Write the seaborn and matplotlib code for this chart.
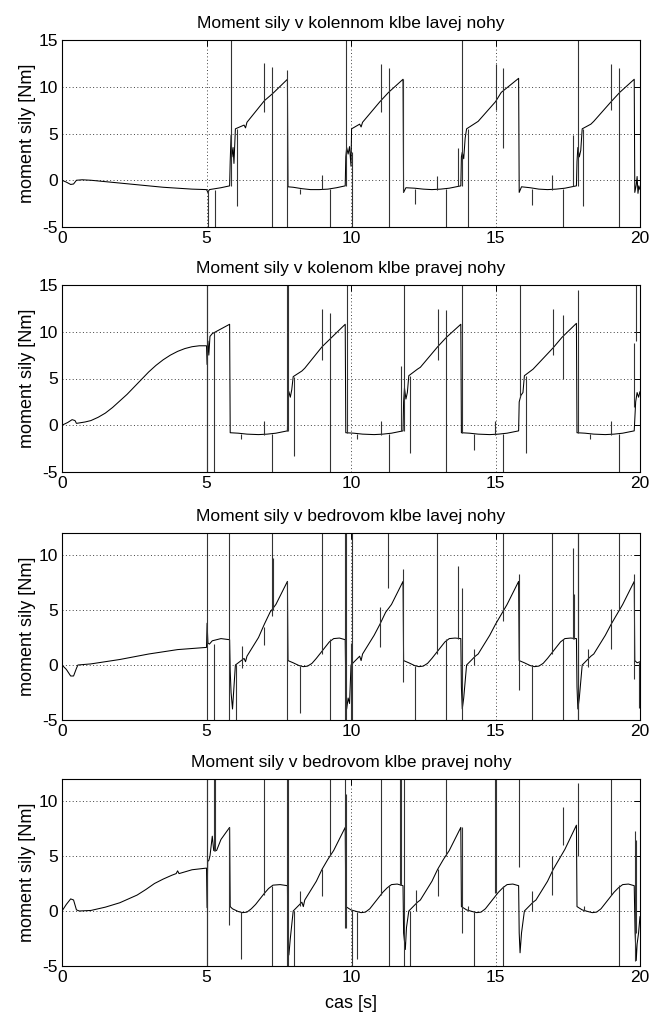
import matplotlib
matplotlib.use("Agg")
import matplotlib.pyplot as plt
import seaborn as sns
import pandas as pd

# ---------------- data ----------------
titles = ["Moment sily v kolennom klbe lavej nohy",
          "Moment sily v kolenom klbe pravej nohy",
          "Moment sily v bedrovom klbe lavej nohy",
          "Moment sily v bedrovom klbe pravej nohy"]
ylabel = "moment sily [Nm]"
xlabel = "cas [s]"
x_ticks = [0, 5, 10, 15, 20]
y_ticks_knee = [-5, 0, 5, 10, 15]
y_ticks_hip = [-5, 0, 5, 10]
ylim_knee = (-5, 15)
ylim_hip = (-5, 12)

knee_left = [
    (0, 0), (0.15, -0.2), (0.3, -0.45), (0.4, -0.4), (0.5, 0), (0.7, 0.05), (1.0, 0.0),
    (1.5, -0.15), (2.0, -0.3), (2.5, -0.45), (3.0, -0.6), (3.5, -0.75), (4.0, -0.85),
    (4.5, -0.95), (5.0, -1.0), (5.05, -1.3), (5.1, -1.0), (5.5, -0.8), (5.8, -0.6),
    (5.82, 2.0), (5.85, 4.8), (5.88, 2.5), (5.92, 3.5), (5.95, 1.8), (6.0, 5.5), (6.3, 5.9),
    (6.35, 5.6), (6.4, 6.2), (7.0, 8.5), (7.3, 9.3), (7.8, 10.8), (7.82, -0.7), (8.0, -0.75),
    (8.3, -0.9), (8.6, -1.0), (8.9, -1.0), (9.2, -0.95), (9.5, -0.8), (9.8, -0.6),
    (9.82, 2.5), (9.85, 3.5), (9.9, 2.8), (9.95, 3.6), (10.0, 1.5), (10.02, 5.5), (10.3, 6.0),
    (10.35, 5.7), (10.4, 6.2), (11.0, 8.4), (11.3, 9.4), (11.8, 10.8), (11.82, -1.3),
    (11.9, -0.8), (12.2, -0.85), (12.5, -0.95), (12.8, -1.0), (13.1, -0.95), (13.4, -0.85),
    (13.8, -0.6),
    (13.82, 2.5), (13.85, 3.0), (13.9, 2.3), (13.95, 4.5), (14.0, 5.5), (14.3, 6.1), (14.4, 6.3),
    (15.0, 8.4), (15.2, 9.4), (15.8, 10.9), (15.82, -1.3), (15.9, -0.7), (16.2, -0.8),
    (16.5, -0.95), (16.8, -1.0), (17.1, -0.95), (17.4, -0.85), (17.8, -0.6),
    (17.82, 2.0), (17.85, 3.5), (17.9, 2.5), (17.95, 3.2), (18.0, 5.5), (18.3, 6.0), (18.4, 6.3),
    (19.0, 8.4), (19.3, 9.4), (19.8, 10.8), (19.82, -1.3), (19.87, -0.5), (19.9, 0.4),
    (19.93, -1.4), (19.96, -0.6), (20.0, -1.0)]
knee_left_spikes = [
    (5.04, -1.0, -5), (5.29, -1.0, -5), (5.84, -0.6, 15), (6.04, 5.5, -2.8), (6.99, 12.5, 7.3),
    (7.27, 12.1, -5), (7.79, 11.8, -5), (8.25, -0.9, -1.5), (8.98, -0.9, 0.6), (9.27, -0.9, -5),
    (9.83, 15, -0.6), (10.04, 3.0, -5), (11.03, 12.4, 7.3), (11.3, 12.0, -5), (11.8, 10.8, -1.3),
    (12.22, -0.9, -2.5), (12.98, -1.0, 0.5), (13.29, -0.9, -5), (13.71, -0.6, 3.5),
    (13.84, 15, -0.6), (14.04, 5.5, -5), (15.02, 12.4, 7.5), (15.27, 12.0, 3.5),
    (16.25, -0.9, -2.6), (16.97, -1.0, 0.6), (17.33, -0.9, -5), (17.69, -0.6, 4.8),
    (17.84, 15, -0.6), (18.04, 5.5, -2.8), (19.0, 12.4, 7.5), (19.28, 12.0, -5)]

knee_right = [
    (0, 0), (0.2, 0.3), (0.35, 0.6), (0.45, 0.5), (0.5, 0.2), (0.6, 0.25), (0.8, 0.35),
    (1.0, 0.5), (1.25, 0.85), (1.5, 1.3), (1.75, 1.9), (2.0, 2.6), (2.25, 3.3), (2.5, 4.1),
    (2.75, 4.9), (3.0, 5.7), (3.25, 6.4), (3.5, 7.0), (3.75, 7.5), (4.0, 7.9), (4.25, 8.2),
    (4.5, 8.4), (4.75, 8.5), (5.0, 8.5),
    (5.02, 6.5), (5.05, 9.0), (5.08, 7.5), (5.12, 9.5), (5.2, 9.8), (5.8, 10.8), (5.82, -0.8),
    (6.1, -0.85), (6.4, -0.95), (6.8, -1.0), (7.1, -0.95), (7.4, -0.85), (7.8, -0.6),
    (7.82, 2.5), (7.85, 3.6), (7.9, 3.0), (7.95, 3.8), (8.0, 5.2), (8.3, 5.8), (8.4, 6.1),
    (9.0, 8.4), (9.3, 9.3), (9.8, 10.8), (9.82, -0.8), (10.1, -0.85), (10.4, -0.95),
    (10.8, -1.0), (11.1, -0.95), (11.4, -0.85), (11.8, -0.6),
    (11.82, 2.5), (11.85, 4.0), (11.9, 2.8), (11.95, 3.5), (12.0, 5.3), (12.3, 6.0), (12.4, 6.2),
    (13.0, 8.4), (13.3, 9.4), (13.8, 10.8), (13.82, -0.8), (14.1, -0.85), (14.4, -0.95),
    (14.8, -1.0), (15.1, -0.95), (15.4, -0.85), (15.8, -0.6),
    (15.82, 2.5), (15.88, 3.2), (15.95, 3.5), (16.0, 5.3), (16.3, 6.0), (17.0, 8.3), (17.3, 9.4),
    (17.8, 10.9), (17.82, -0.8), (18.1, -0.85), (18.4, -0.95), (18.8, -1.0), (19.1, -0.95),
    (19.4, -0.85), (19.8, -0.6),
    (19.85, 2.5), (19.9, 3.5), (19.95, 3.0), (20.0, 3.6)]
knee_right_spikes = [
    (5.01, 15, -5), (5.03, 15, -5), (5.26, 10.0, -5), (6.2, -0.9, -1.5), (6.98, -1.0, 0.5),
    (7.27, -0.9, -5), (7.79, 15, -0.6), (7.81, 15, -0.6), (8.03, 5.2, -3.3), (8.98, 12.4, 7.0),
    (9.27, 12.0, -5), (9.85, 15, -0.8), (10.2, -0.9, -1.5), (11.03, -1.0, 0.5), (11.3, -0.9, -5),
    (11.72, -0.6, 6.3), (11.84, 15, -0.6), (12.04, 5.3, -3.0), (13.0, 12.4, 7.0),
    (13.29, 12.3, -5), (13.83, 15, -0.8), (14.24, -0.9, -2.6), (14.99, -1.0, 0.5),
    (15.27, -0.9, -5), (15.85, 15, 3.0), (16.04, 5.3, -3.0), (17.0, 12.4, 7.5), (17.33, 11.8, 5.0),
    (17.87, 14.5, -0.8), (18.27, -0.9, -1.5), (19.0, -1.0, 0.5), (19.28, -0.9, -5),
    (19.8, 8.8, 2.0), (19.86, 15, 9.0)]

hip_left = [
    (0, 0), (0.15, -0.4), (0.3, -1.0), (0.4, -1.0), (0.5, -0.3), (0.55, 0), (1.0, 0.1),
    (1.5, 0.3), (2.0, 0.5), (2.5, 0.75), (3.0, 1.0), (3.5, 1.2), (4.0, 1.4), (4.5, 1.5),
    (5.0, 1.6), (5.02, 3.8), (5.05, 2.0), (5.1, 1.9),
    (5.2, 2.2), (5.5, 2.4), (5.8, 2.3), (5.82, -0.5), (5.85, -2.5), (5.9, -4.0), (5.95, -2.0),
    (6.0, 0.0), (6.3, 0.6), (6.35, 0.3), (6.4, 0.8), (6.8, 2.5), (7.0, 3.7), (7.2, 4.8),
    (7.4, 5.5), (7.8, 7.6), (7.82, 0.4), (8.0, 0.2), (8.2, -0.05), (8.35, -0.15), (8.5, -0.1),
    (8.65, 0.15), (8.8, 0.6), (8.95, 1.1), (9.1, 1.6), (9.25, 2.1), (9.4, 2.4), (9.6, 2.45),
    (9.8, 2.3),
    (9.82, -2.0), (9.85, -4.0), (9.9, -3.0), (9.95, -3.5), (10.0, 0), (10.3, 0.8), (10.35, 0.4),
    (10.4, 1.0), (10.8, 2.7), (11.0, 3.7), (11.2, 4.8), (11.4, 5.5), (11.8, 7.6), (11.82, 0.4),
    (12.0, 0.2), (12.2, -0.05), (12.35, -0.15), (12.5, -0.1), (12.65, 0.15), (12.8, 0.6),
    (12.95, 1.1), (13.1, 1.6), (13.25, 2.1), (13.4, 2.4), (13.6, 2.45), (13.8, 2.4),
    (13.82, -2.0), (13.85, -4.0), (13.9, -3.0), (14.0, 0), (14.3, 0.8), (14.4, 1.0), (14.8, 2.7),
    (15.0, 3.7), (15.2, 4.6), (15.4, 5.5), (15.8, 7.6), (15.82, 0.4), (16.0, 0.2), (16.2, -0.05),
    (16.35, -0.15), (16.5, -0.1), (16.65, 0.15), (16.8, 0.6), (16.95, 1.1), (17.1, 1.6),
    (17.25, 2.1), (17.4, 2.4), (17.6, 2.45), (17.8, 2.4),
    (17.82, -2.0), (17.85, -4.0), (17.9, -3.0), (18.0, 0), (18.3, 0.8), (18.4, 1.0), (18.8, 2.7),
    (19.0, 3.7), (19.2, 4.6), (19.4, 5.5), (19.8, 7.6), (19.82, 0.4), (19.9, 0.2), (20.0, 0.3)]
hip_left_spikes = [
    (5.0, 12, -5), (5.27, 1.9, -5), (5.79, 12, -5), (6.02, -5, 0.0), (6.22, 1.7, -0.3),
    (6.98, 3.5, 1.8), (7.27, 12, 4.5), (7.3, 9.7, 5.0), (7.79, 7.6, -5), (8.25, -0.1, -4.4),
    (8.98, 12, 1.0), (9.27, 2.4, -5), (9.8, 12, -5), (9.82, 12, -5), (9.99, 2.0, -5),
    (10.04, 12, -5), (11.02, 5.3, 1.6), (11.29, 12, 7.0), (11.8, 8.7, -1.5), (12.23, -0.1, -5),
    (12.99, 12, 1.0), (13.29, 2.4, -5), (13.7, 9.0, 2.4), (13.83, 7.0, -5), (14.24, 1.5, 0.0),
    (15.27, 12, 4.0), (15.82, 8.3, -2.3), (16.25, -0.1, -5), (16.96, 12, 1.0), (17.33, 2.4, -5),
    (17.69, 10.6, 2.4), (17.72, 6.5, 2.4), (17.84, 12, -5), (17.86, 12, -5), (18.2, 1.5, -0.2),
    (19.0, 5.1, 1.5), (19.28, 12, 5.0), (19.8, 8.3, -1.3), (19.95, 0.3, -3.9)]

hip_right = [
    (0, 0), (0.15, 0.6), (0.3, 1.1), (0.4, 1.0), (0.5, 0.1), (0.6, 0.0), (1.0, 0.05), (1.5, 0.35),
    (2.0, 0.75), (2.3, 1.1), (2.6, 1.45), (2.9, 1.95), (3.2, 2.5), (3.5, 2.9), (3.8, 3.25),
    (3.95, 3.4), (4.0, 3.65), (4.05, 3.4), (4.5, 3.75), (5.0, 3.9), (5.02, 0.3), (5.04, 4.5),
    (5.08, 4.6), (5.12, 5.0), (5.2, 6.8),
    (5.25, 5.5), (5.35, 5.5), (5.5, 6.5), (5.8, 7.6), (5.82, 0.4), (5.9, 0.2), (6.1, -0.05),
    (6.25, -0.15), (6.4, -0.1), (6.55, 0.2), (6.7, 0.6), (6.85, 1.1), (7.0, 1.6), (7.15, 2.05),
    (7.3, 2.35), (7.55, 2.4), (7.8, 2.3),
    (7.82, -3.0), (7.85, -4.0), (7.9, -2.5), (8.0, 0.0), (8.3, 0.8), (8.35, 0.4), (8.4, 1.0),
    (8.8, 2.7), (9.0, 3.8), (9.2, 4.7), (9.4, 5.5), (9.8, 7.6), (9.82, 0.4), (10.0, 0.1),
    (10.2, -0.05), (10.35, -0.15), (10.5, -0.1), (10.65, 0.2), (10.8, 0.7), (10.95, 1.2),
    (11.1, 1.7), (11.25, 2.1), (11.4, 2.4), (11.6, 2.45), (11.8, 2.3),
    (11.82, -2.0), (11.88, -3.5), (11.92, -1.5), (12.0, 0.0), (12.3, 0.8), (12.4, 1.0),
    (12.8, 2.7), (13.0, 3.8), (13.2, 4.7), (13.4, 5.5), (13.8, 7.6), (13.82, 0.4), (14.0, 0.1),
    (14.2, -0.05), (14.35, -0.15), (14.5, -0.1), (14.65, 0.2), (14.8, 0.7), (14.95, 1.2),
    (15.1, 1.7), (15.25, 2.1), (15.4, 2.4), (15.6, 2.45), (15.8, 2.3),
    (15.82, -2.0), (15.85, -3.8), (15.9, -2.0), (16.0, 0.0), (16.3, 0.8), (16.4, 1.0),
    (16.8, 2.7), (17.0, 3.8), (17.2, 4.7), (17.4, 5.6), (17.8, 7.8), (17.82, 0.4), (18.0, 0.1),
    (18.2, -0.05), (18.35, -0.15), (18.5, -0.1), (18.65, 0.2), (18.8, 0.7), (18.95, 1.2),
    (19.1, 1.7), (19.25, 2.1), (19.4, 2.4), (19.6, 2.45), (19.8, 2.3),
    (19.83, -2.0), (19.87, -4.5), (19.9, -3.0), (19.95, -2.0), (20.0, -0.5)]
hip_right_spikes = [
    (5.01, 12, -5), (5.03, 12, -5), (5.26, 12, 5.5), (5.28, 12, 5.5), (5.79, 7.6, -1.3),
    (6.2, -0.1, -4.4), (6.98, 12, 1.5), (7.27, 2.3, -5), (7.79, 12, -5), (7.81, 12, -5),
    (8.03, -5, 0.0), (8.25, 1.8, 0.5), (8.98, 3.8, 1.4), (9.27, 12, 5.0), (9.8, 12, -1.5),
    (9.82, 10.6, -1.5), (10.02, 0.1, -5), (10.2, -0.1, -4.4), (11.03, 12, 1.5),
    (11.3, 2.4, -5), (11.7, 12, 2.4), (11.72, 12, 2.4), (11.84, 12, -5), (12.04, -5, 0.0),
    (12.25, 1.9, 0.0), (13.0, 3.8, 1.4), (13.29, 12, 5.0), (13.83, 7.6, -2.0), (14.06, 0.5, 0.0),
    (14.24, -0.1, -5), (14.99, 12, 1.6), (15.0, 12, 1.6), (15.27, 2.3, -5), (15.82, 12, 4.0),
    (16.25, 1.8, 0.0), (16.97, 1.5, 5.0), (17.33, 9.5, 6.0), (17.87, 11.6, 5.0),
    (18.05, 0.5, 0.0), (19.0, 12, 1.5), (19.28, 2.4, -5), (19.81, 7.3, -4.5), (19.86, 6.5, -2.0)]

series = [knee_left, knee_right, hip_left, hip_right]
spikes = [knee_left_spikes, knee_right_spikes, hip_left_spikes, hip_right_spikes]
ylims = [ylim_knee, ylim_knee, ylim_hip, ylim_hip]
yticks = [y_ticks_knee, y_ticks_knee, y_ticks_hip, y_ticks_hip]

# ---------------- styling ----------------
sns.set_theme(style="white")
plt.rcParams["font.family"] = ["Liberation Sans", "DejaVu Sans"]
plt.rcParams["xtick.direction"] = "in"
plt.rcParams["ytick.direction"] = "in"

fig = plt.figure(figsize=(6.54, 10.18), dpi=100)
left, width, height = 62 / 654, 578 / 654, 187 / 1018
bottoms = [1 - 227 / 1018, 1 - 472 / 1018, 1 - 720 / 1018, 1 - 966 / 1018]

for i in range(4):
    ax = fig.add_axes([left, bottoms[i], width, height])
    df = pd.DataFrame(series[i], columns=["t", "y"])
    sns.lineplot(data=df, x="t", y="y", sort=False, estimator=None, ax=ax,
                 color="black", lw=0.75)
    sp = pd.DataFrame(spikes[i], columns=["t", "y0", "y1"])
    ax.vlines(sp["t"], sp["y0"], sp["y1"], color="#333333", lw=0.8)
    ax.set_xlim(0, 20)
    ax.set_ylim(*ylims[i])
    ax.set_xticks(x_ticks)
    ax.set_yticks(yticks[i])
    ax.set_xticklabels([str(v) for v in x_ticks])
    ax.set_yticklabels([str(v) for v in yticks[i]])
    ax.tick_params(labelsize=12.5, length=4, width=0.7, color="black",
                   top=True, right=True, pad=3, labelcolor="black")
    ax.grid(True, color="0.25", linestyle=(0, (1, 2.5)), lw=0.7)
    for s in ax.spines.values():
        s.set_color("black")
        s.set_linewidth(0.8)
    ax.set_title(titles[i], fontsize=12.5, pad=9, color="black")
    ax.set_ylabel(ylabel, fontsize=13, labelpad=2, color="black")
    ax.set_xlabel("")
ax.set_xlabel(xlabel, fontsize=13, labelpad=7, color="black")

fig.savefig("out.png", dpi=100)
